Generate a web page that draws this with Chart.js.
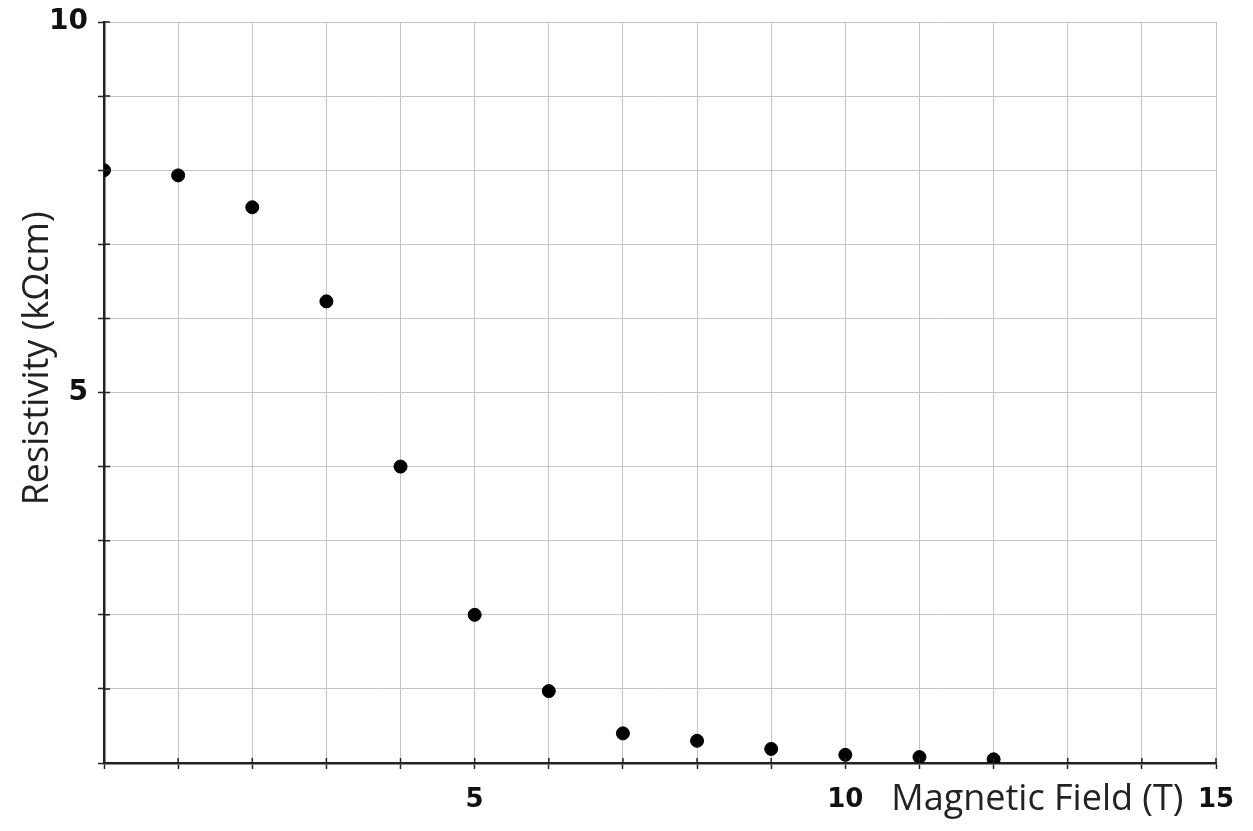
<!DOCTYPE html>
<html>
<head>
<meta charset="utf-8">
<script src="https://cdn.jsdelivr.net/npm/chart.js@4.4.0/dist/chart.umd.min.js"></script>
<style>
  html, body { margin: 0; padding: 0; background: #fff; }
  #wrap { width: 1253px; height: 831px; }
</style>
</head>
<body>
<div id="wrap"><canvas id="myChart" width="1253" height="831"></canvas></div>
<script>
// magnetic field (T) and resistivity (kOhm cm)
const field = [0, 1, 2, 3, 4, 5, 6, 7, 8, 9, 10, 11, 12];
const resistivity = [8.0, 7.93, 7.5, 6.23, 4.0, 2.0, 0.97, 0.4, 0.3, 0.19, 0.11, 0.08, 0.05];
const xLabels = [5, 10, 15];
const yLabels = [5, 10];
const xTitle = 'Magnetic Field (T)';
const yTitle = 'Resistivity (k\u03A9cm)';

const points = field.map((x, i) => ({ x: x, y: resistivity[i] }));

// short tick marks on the inner side of both axes, plus both axis titles
// (the x title sits on the tick label row, between 10 and 15)
const axisExtras = {
  id: 'axisExtras',
  afterDraw(chart) {
    const ctx = chart.ctx;
    const xs = chart.scales.x, ys = chart.scales.y;
    ctx.save();
    ctx.strokeStyle = '#222';
    ctx.lineWidth = 1.5;
    ctx.beginPath();
    xs.ticks.forEach(t => {
      const px = xs.getPixelForValue(t.value);
      ctx.moveTo(px, ys.bottom);
      ctx.lineTo(px, ys.bottom - 5);
    });
    ys.ticks.forEach(t => {
      const py = ys.getPixelForValue(t.value);
      ctx.moveTo(xs.left, py);
      ctx.lineTo(xs.left + 6, py);
    });
    ctx.stroke();

    ctx.fillStyle = '#222';
    ctx.font = '36px "Open Sans"';
    ctx.textAlign = 'center';
    ctx.textBaseline = 'alphabetic';
    ctx.fillText(xTitle, xs.getPixelForValue(12.59), ys.bottom + 47);

    ctx.translate(48, ys.getPixelForValue(5.46));
    ctx.rotate(-Math.PI / 2);
    ctx.fillText(yTitle, 0, 0);
    ctx.restore();
  }
};

new Chart(document.getElementById('myChart'), {
  type: 'scatter',
  data: {
    datasets: [{
      data: points,
      backgroundColor: '#000',
      borderColor: '#000',
      pointRadius: 6.5,
      pointHoverRadius: 6.5
    }]
  },
  options: {
    responsive: false,
    animation: false,
    plugins: {
      legend: { display: false },
      tooltip: { enabled: false }
    },
    layout: { padding: { top: 22, right: 37, left: 0, bottom: 0 } },
    scales: {
      x: {
        type: 'linear',
        min: 0,
        max: 15,
        afterFit(scale) { scale.height = 68; scale.paddingRight = 0; },
        border: { color: '#222', width: 2.5 },
        grid: { color: '#c4c4c4', lineWidth: 1, tickColor: '#222', tickLength: 6, tickWidth: 1.5 },
        ticks: {
          stepSize: 1,
          autoSkip: false,
          maxRotation: 0,
          padding: 16,
          color: '#111',
          font: { family: 'DejaVu Sans', size: 26, weight: 'bold' },
          callback: v => xLabels.includes(v) ? String(v) : ''
        }
      },
      y: {
        type: 'linear',
        min: 0,
        max: 10,
        afterFit(scale) { scale.width = 104; scale.paddingTop = 0; },
        border: { color: '#222', width: 2.5 },
        grid: { color: '#c4c4c4', lineWidth: 1, tickColor: '#222', tickLength: 6, tickWidth: 1.5 },
        ticks: {
          stepSize: 1,
          autoSkip: false,
          padding: 10,
          color: '#111',
          font: { family: 'DejaVu Sans', size: 28, weight: 'bold' },
          callback: v => yLabels.includes(v) ? String(v) : ''
        }
      }
    }
  },
  plugins: [axisExtras]
});
</script>
</body>
</html>
